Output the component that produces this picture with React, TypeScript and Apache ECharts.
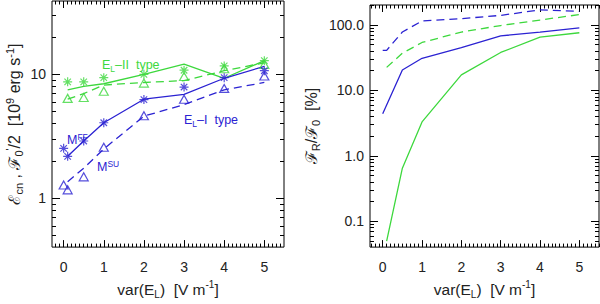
import React, { useEffect, useRef } from "react";
import * as echarts from "echarts";

// ---------- data ----------
// Left panel
const xBlueMarks = [0, 0.1, 0.5, 1, 2, 3, 4, 5];
const blueFF = [2.53, 2.18, 2.9, 4.07, 6.26, 7.9, 9.4, 10.7];
const blueSU = [1.28, 1.17, 1.49, 2.58, 4.63, 6.3, 7.7, 9.7];
const xLines = [0.1, 0.5, 1, 2, 3, 4, 5];
const blueSolidL = [2.18, 2.9, 4.07, 6.3, 6.9, 9.3, 11.6];
const blueDashedL = [1.36, 1.75, 2.5, 4.6, 5.7, 7.5, 8.6];
const xGreenMarks = [0.1, 0.5, 1, 2, 3, 4, 5];
const greenFF = [8.7, 8.7, 9.4, 10.0, 10.8, 11.7, 12.9];
const greenSU = [6.4, 6.5, 7.3, 8.5, 9.6, 11.1, 12.0];
const greenSolidL = [7.5, 8.0, 8.4, 10.0, 12.1, 9.3, 12.9];
const greenDashedL = [6.3, 7.0, 8.2, 8.6, 8.9, 10.7, 12.4];

// Right panel
const xBlueDashR = [0, 0.1, 0.5, 1, 2, 3, 4, 5];
const blueDashR = [41, 41, 78, 115, 125, 140, 170, 161];
const xBlueSolidR = [0, 0.5, 1, 2, 3, 4, 5];
const blueSolidR = [4.4, 20.5, 31, 45, 68, 78, 90];
const xGreenR = [0.1, 0.5, 1, 2, 3, 4, 5];
const greenSolidR = [0.05, 0.65, 3.3, 17.3, 38, 65, 76];
const greenDashR = [22.5, 37, 54, 78, 98, 119, 144];

// tick labels
const xTickLabels = [0, 1, 2, 3, 4, 5];
const leftYLabels = [1, 10];
const rightYLabels = [0.1, 1, 10, 100];

const BLUE = "#2b22d2";
const GREEN = "#3dd83d";
const FONT = "Liberation Sans, Arial, sans-serif";

const lg = (v: number) => Math.log10(v);
const pairs = (xs: number[], ys: number[]) => xs.map((x, i) => [x, lg(ys[i])]);

const xMinor: number[] = [];
for (let i = -3; i <= 55; i++) xMinor.push(i / 10);
const minorLog = (lo: number, hi: number) => {
  const out: number[] = [];
  for (let d = lo; d <= hi; d++) {
    for (let m = 2; m <= 9; m++) out.push(lg(m * Math.pow(10, d)));
  }
  return out;
};

const mkRich = (fs: number, sfs: number, lh: number) => ({
  n: { fontSize: fs, fontFamily: FONT, color: "#222", lineHeight: lh },
  sb: { fontSize: sfs, fontFamily: FONT, color: "#222", verticalAlign: "bottom", lineHeight: lh },
  sp: { fontSize: sfs, fontFamily: FONT, color: "#222", verticalAlign: "top", lineHeight: lh },
});

const ASTERISK =
  "path://M0,-1L0,1M-1,0L1,0M-0.72,-0.72L0.72,0.72M-0.72,0.72L0.72,-0.72";

function makeAxes(
  grid: number,
  dim: "x" | "y",
  min: number,
  max: number,
  majors: number[],
  minors: number[],
  majLen: number,
  minLen: number,
  formatter: (v: number) => string,
  name: string,
  nameGap: number,
  rich: any
) {
  const pos = dim === "x" ? ["bottom", "top"] : ["left", "right"];
  const axes: any[] = [];
  pos.forEach((p, pi) => {
    [true, false].forEach((major) => {
      const showLabel = pi === 0 && major;
      axes.push({
        type: "value",
        gridIndex: grid,
        position: p,
        min,
        max,
        axisLine: { show: false, onZero: false },
        splitLine: { show: false },
        axisTick: {
          show: true,
          inside: true,
          length: major ? majLen : minLen,
          customValues: major ? majors : minors,
          lineStyle: { color: "#000", width: 1 },
        },
        axisLabel: showLabel
          ? {
              show: true,
              customValues: majors,
              formatter,
              fontSize: 14,
              fontFamily: FONT,
              color: "#222",
              margin: dim === "x" ? 13 : 6,
            }
          : { show: false },
        name: showLabel ? name : "",
        nameLocation: "middle",
        nameGap,
        nameRotate: dim === "y" ? 90 : 0,
        nameTextStyle: { rich },
      });
    });
  });
  return axes;
}

export default function App() {
  const ref = useRef<HTMLDivElement>(null);
  useEffect(() => {
    if (!ref.current) return;
    const chart = echarts.init(ref.current, undefined, { renderer: "svg" });

    const xName = "{n|var(E}{sb|L}{n|)  [V m}{sp|-1}{n|]}";
    const xFmt = (v: number) => String(Math.round(v));
    const xRich = mkRich(15.5, 10, 20);
    const yRich = mkRich(16, 11, 20);

    const xAxes = [
      ...makeAxes(0, "x", -0.29, 5.49, xTickLabels, xMinor, 7, 3.5, xFmt, xName, 31, xRich),
      ...makeAxes(1, "x", -0.323, 5.5, xTickLabels, xMinor, 7, 3.5, xFmt, xName, 31, xRich),
    ];
    const yAxes = [
      ...makeAxes(
        0,
        "y",
        -0.394,
        1.592,
        leftYLabels.map(lg),
        minorLog(-1, 1),
        8,
        4,
        (v: number) => String(Math.round(Math.pow(10, v))),
        "{n|ℰ}{sb|cn}{n| , ℱ}{sb|0}{sp|'}{n|/2  [10}{sp|9}{n| erg s}{sp|-1}{n|]}",
        28,
        yRich
      ),
      ...makeAxes(
        1,
        "y",
        -1.393,
        2.305,
        rightYLabels.map(lg),
        minorLog(-2, 2),
        8,
        4,
        (v: number) => Math.pow(10, v).toFixed(1),
        "{n|ℱ}{sb|R}{n|/ℱ}{sb|0}{n|  [%]}",
        49,
        yRich
      ),
    ];

    const line = (xi: number, xs: number[], ys: number[], color: string, dashed: boolean) => ({
      type: "line",
      xAxisIndex: xi,
      yAxisIndex: xi,
      data: pairs(xs, ys),
      symbol: "none",
      showSymbol: false,
      lineStyle: { color, width: 1.3, type: dashed ? [8, 5] : "solid" },
      silent: true,
    });
    const marks = (xs: number[], ys: number[], color: string, tri: boolean) => ({
      type: "scatter",
      xAxisIndex: 0,
      yAxisIndex: 0,
      data: pairs(xs, ys),
      symbol: tri ? "triangle" : ASTERISK,
      symbolSize: tri ? [9, 8] : 9,
      itemStyle: { color: "rgba(0,0,0,0)", borderColor: color, borderWidth: 1.2 },
      silent: true,
      z: 3,
    });

    const txt = (x: number, y: number, text: string, color: string) => ({
      type: "text",
      x,
      y,
      style: {
        text,
        verticalAlign: "middle",
        rich: {
          n: { fontSize: 12.5, fontFamily: FONT, fill: color, color, lineHeight: 16 },
          sb: { fontSize: 8.5, fontFamily: FONT, fill: color, color, verticalAlign: "bottom", lineHeight: 16 },
          sp: { fontSize: 8.5, fontFamily: FONT, fill: color, color, verticalAlign: "top", lineHeight: 16 },
        },
      },
      silent: true,
    });

    chart.setOption({
      animation: false,
      grid: [
        { left: 52, top: 1, width: 232, height: 257, show: true, borderColor: "#000", borderWidth: 1, backgroundColor: "transparent" },
        { left: 370, top: 5, width: 229, height: 254, show: true, borderColor: "#000", borderWidth: 1, backgroundColor: "transparent" },
      ],
      xAxis: xAxes,
      yAxis: yAxes,
      series: [
        line(0, xLines, greenSolidL, GREEN, false),
        line(0, xLines, greenDashedL, GREEN, true),
        line(0, xLines, blueSolidL, BLUE, false),
        line(0, xLines, blueDashedL, BLUE, true),
        marks(xGreenMarks, greenFF, GREEN, false),
        marks(xGreenMarks, greenSU, GREEN, true),
        marks(xBlueMarks, blueFF, BLUE, false),
        marks(xBlueMarks, blueSU, BLUE, true),
        line(4, xBlueDashR, blueDashR, BLUE, true),
        line(4, xGreenR, greenDashR, GREEN, true),
        line(4, xBlueSolidR, blueSolidR, BLUE, false),
        line(4, xGreenR, greenSolidR, GREEN, false),
      ],
      graphic: [
        txt(102, 65, "{n|E}{sb|L}{n|–II  type}", GREEN),
        txt(184, 120, "{n|E}{sb|L}{n|–I  type}", BLUE),
        txt(67, 140, "{n|M}{sp|FF}", BLUE),
        txt(97, 167, "{n|M}{sp|SU}", BLUE),
      ],
    });
    return () => chart.dispose();
  }, []);
  return (
    <div
      ref={ref}
      style={{ position: "absolute", left: 0, top: 0, width: 600, height: 304 }}
    />
  );
}
